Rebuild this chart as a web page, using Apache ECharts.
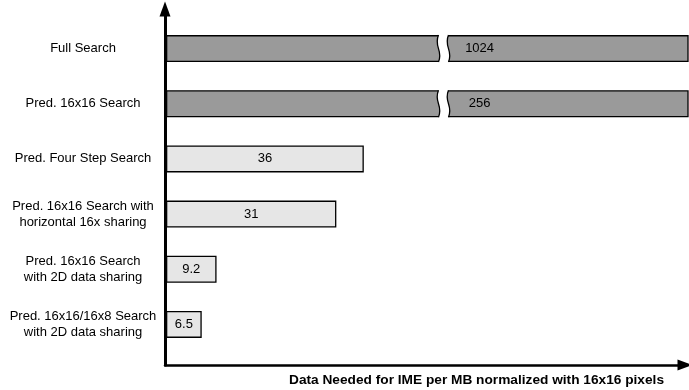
<!DOCTYPE html>
<html>
<head>
<meta charset="utf-8">
<style>html,body{margin:0;padding:0;background:#fff}#c{width:689px;height:390px}</style>
<script src="https://cdn.jsdelivr.net/npm/echarts@6/dist/echarts.min.js"></script>
</head>
<body>
<div id="c"></div>
<script>
const categories = [
  'Full Search',
  'Pred. 16x16 Search',
  'Pred. Four Step Search',
  'Pred. 16x16 Search with\nhorizontal 16x sharing',
  'Pred. 16x16 Search\nwith 2D data sharing',
  'Pred. 16x16/16x8 Search\nwith 2D data sharing'
];
const values = [1024, 256, 36, 31, 9.2, 6.5];
const axisTitle = 'Data Needed for IME per MB normalized with 16x16 pixels';
const xMax = 95;          // visible end of the value axis
const breakValue = 50.5;  // where broken bars show the break mark

const FONT = "'Liberation Sans', Arial, sans-serif";
const BAR_W = 27;
const DARK = '#9a9a9a', LIGHT = '#e6e6e6';

const barData = values.map(v => {
  const broken = v > xMax;
  return {
    value: v,
    itemStyle: { color: broken ? DARK : LIGHT },
    label: broken
      ? { position: ['60%', '50%'], align: 'center', verticalAlign: 'middle' }
      : { position: 'inside' }
  };
});
const breakData = values.map((v, i) => v > xMax ? [breakValue, i] : null).filter(d => d);

const chart = echarts.init(document.getElementById('c'), null, { renderer: 'canvas' });
chart.setOption({
  animation: false,
  backgroundColor: '#fff',
  textStyle: { fontFamily: FONT },
  title: {
    text: axisTitle, right: 20, top: 368,
    textStyle: { fontFamily: FONT, fontSize: 13.7, fontWeight: 'bold', color: '#000' }
  },
  grid: [
    { left: 166, right: 1, top: 21, bottom: 38 },
    { left: 165, right: 4, top: 9, bottom: 25 }
  ],
  xAxis: [
    { gridIndex: 0, type: 'value', min: 0, max: xMax, show: true,
      axisLine: { show: false }, axisTick: { show: false }, axisLabel: { show: false }, splitLine: { show: false } },
    { gridIndex: 1, type: 'value', min: 0, max: 1,
      axisLine: { show: true, symbol: ['none', 'triangle'], symbolSize: [11, 15], lineStyle: { color: '#000', width: 2.5 } },
      axisTick: { show: false }, axisLabel: { show: false }, splitLine: { show: false } }
  ],
  yAxis: [
    { gridIndex: 0, type: 'category', data: categories, inverse: true,
      axisLine: { show: false }, axisTick: { show: false },
      axisLabel: { margin: 83, align: 'center', fontSize: 13, lineHeight: 16, color: '#000', fontFamily: FONT } },
    { gridIndex: 1, type: 'value', min: 0, max: 1,
      axisLine: { show: true, symbol: ['none', 'triangle'], symbolSize: [11, 15], lineStyle: { color: '#000', width: 3 } },
      axisTick: { show: false }, axisLabel: { show: false }, splitLine: { show: false } }
  ],
  series: [
    {
      type: 'bar', xAxisIndex: 0, yAxisIndex: 0, barWidth: BAR_W, clip: true,
      data: barData,
      itemStyle: { borderColor: '#000', borderWidth: 1.3 },
      label: { show: true, fontSize: 13, color: '#000', fontFamily: FONT },
      z: 2
    },
    {
      type: 'custom', xAxisIndex: 0, yAxisIndex: 0, z: 5, silent: true,
      data: breakData,
      renderItem: function (params, api) {
        const p = api.coord([api.value(0), api.value(1)]);
        const h = BAR_W, top = p[1] - h / 2, bot = p[1] + h / 2;
        const x1 = p[0] - 5, x2 = p[0] + 5, b = 5;
        const c = x => `C${x - b} ${top + h * 0.45} ${x + b} ${top + h * 0.55} ${x} ${bot}`;
        const cr = x => `C${x + b} ${top + h * 0.55} ${x - b} ${top + h * 0.45} ${x} ${top}`;
        const fill = `M${x1} ${top - 2} L${x1} ${top} ${c(x1)} L${x1} ${bot + 2} L${x2} ${bot + 2} L${x2} ${bot} ${cr(x2)} L${x2} ${top - 2} Z`;
        return {
          type: 'group',
          children: [
            { type: 'path', shape: { pathData: fill }, style: { fill: '#fff', stroke: null } },
            { type: 'path', shape: { pathData: `M${x1} ${top} ${c(x1)}` }, style: { fill: null, stroke: '#000', lineWidth: 1.3 } },
            { type: 'path', shape: { pathData: `M${x2} ${top} ${c(x2)}` }, style: { fill: null, stroke: '#000', lineWidth: 1.3 } }
          ]
        };
      }
    }
  ]
});
</script>
</body>
</html>
